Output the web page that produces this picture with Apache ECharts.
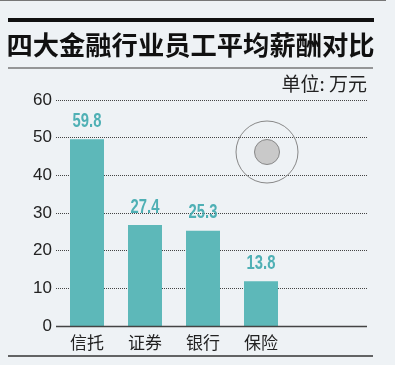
<!DOCTYPE html>
<html>
<head>
<meta charset="utf-8">
<script src="https://cdn.jsdelivr.net/npm/echarts@6/dist/echarts.min.js"></script>
<style>
html,body{margin:0;padding:0;background:#eef2f5;}
#chart{width:395px;height:365px;}
</style>
</head>
<body>
<div id="chart"></div>
<script>
const titleText = '四大金融行业员工平均薪酬对比';
const unitText = '单位: 万元';
const categories = ['信托', '证券', '银行', '保险'];
// printed values shown above the bars
const valueLabels = [59.8, 27.4, 25.3, 13.8];
// bar heights as drawn in the picture (read against the y axis)
const barHeights = [49.6, 26.8, 25.3, 11.9];
const yTicks = [0, 10, 20, 30, 40, 50, 60];

const chart = echarts.init(document.getElementById('chart'));
const textFont = "'Liberation Sans', 'Noto Sans CJK SC', sans-serif";
const cjkFont = "'Noto Sans CJK SC', sans-serif";

chart.setOption({
  backgroundColor: '#eef2f5',
  animation: false,
  grid: [
    { left: 56, right: 28, top: 100, bottom: 39 },
    { left: 58, width: 232, top: 100, bottom: 39 }
  ],
  xAxis: [
    { type: 'value', gridIndex: 0, min: 0, max: 1, show: true,
      axisLine: { show: false }, axisTick: { show: false }, axisLabel: { show: false }, splitLine: { show: false } },
    { type: 'category', gridIndex: 1, data: categories,
      axisLine: { show: false }, axisTick: { show: false },
      axisLabel: { margin: 8, fontSize: 17, color: '#222', fontFamily: cjkFont } }
  ],
  yAxis: [
    { type: 'value', gridIndex: 0, min: yTicks[0], max: yTicks[yTicks.length - 1], interval: 10,
      axisLine: { show: false }, axisTick: { show: false },
      axisLabel: { margin: 4, fontSize: 17, color: '#222', fontFamily: textFont },
      splitLine: { show: true, lineStyle: { type: [1, 1], color: '#444', width: 1 } } },
    { type: 'value', gridIndex: 1, min: yTicks[0], max: yTicks[yTicks.length - 1], interval: 10, show: false }
  ],
  series: [
    {
      type: 'bar',
      xAxisIndex: 1, yAxisIndex: 1,
      data: barHeights,
      barWidth: 34,
      itemStyle: { color: '#5db8b9' },
      z: 3
    },
    {
      type: 'custom',
      xAxisIndex: 1, yAxisIndex: 1,
      data: barHeights.map((h, i) => [i, h]),
      z: 4,
      renderItem: function (params, api) {
        const p = api.coord([api.value(0), api.value(1)]);
        return {
          type: 'text',
          x: p[0], y: p[1] - 8,
          scaleX: 0.74,
          style: {
            text: valueLabels[params.dataIndex].toFixed(1),
            align: 'center', verticalAlign: 'bottom',
            fill: '#4fb0b5', fontSize: 20, fontWeight: 'bold',
            fontFamily: "'Liberation Sans', sans-serif"
          }
        };
      }
    }
  ],
  graphic: [
    { type: 'line', z: 100, shape: { x1: 0, y1: 0.5, x2: 386, y2: 0.5 }, style: { stroke: '#777', lineWidth: 1 } },
    { type: 'line', z: 100, shape: { x1: 8, y1: 20, x2: 374, y2: 20 }, style: { stroke: '#111', lineWidth: 4 } },
    { type: 'text', z: 100, style: { text: titleText, x: 190.5, y: 45, align: 'center', verticalAlign: 'middle',
      fontSize: 26.3, fontWeight: 'bold', fill: '#111', fontFamily: cjkFont } },
    { type: 'line', z: 100, shape: { x1: 8, y1: 68, x2: 373, y2: 68 }, style: { stroke: '#777', lineWidth: 1.5 } },
    { type: 'line', z: 100, shape: { x1: 56, y1: 326.5, x2: 367, y2: 326.5 }, style: { stroke: '#444', lineWidth: 1.5 } },
    { type: 'line', z: 100, shape: { x1: 8, y1: 356, x2: 373, y2: 356 }, style: { stroke: '#333', lineWidth: 1.5 } },
    { type: 'text', z: 100, style: { text: unitText, x: 367, y: 84, align: 'right', verticalAlign: 'middle',
      fontSize: 19, fill: '#222', fontFamily: cjkFont } },
    { type: 'circle', z: 100, shape: { cx: 267, cy: 152, r: 31 }, style: { fill: 'none', stroke: '#888', lineWidth: 1 } },
    { type: 'circle', z: 100, shape: { cx: 267, cy: 152, r: 12.5 }, style: { fill: '#c9c9c9', stroke: '#888', lineWidth: 1 } }
  ]
});
</script>
</body>
</html>
